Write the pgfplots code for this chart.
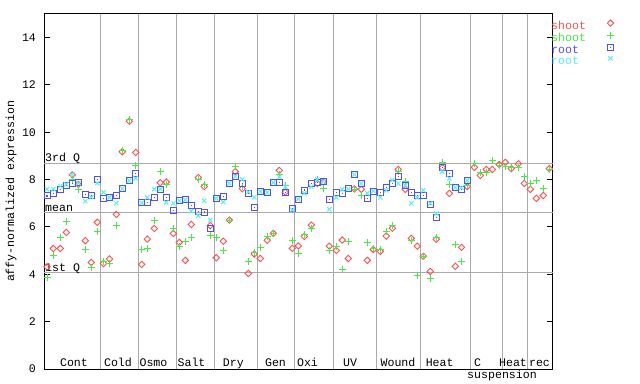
\documentclass[border=0pt]{standalone}
\usepackage{fontspec}
\setmainfont{Liberation Mono}
\usepackage{pgfplots}
\pgfplotsset{compat=1.18}
\definecolor{cred}{RGB}{255,80,80}
\definecolor{cgreen}{RGB}{70,235,70}
\definecolor{cblue}{RGB}{80,80,255}
\definecolor{ccyan}{RGB}{90,240,240}
\definecolor{cgrid}{RGB}{170,170,170}
\pgfdeclareplotmark{dmd}{%
  \pgfpathmoveto{\pgfqpoint{0pt}{\pgfplotmarksize}}%
  \pgfpathlineto{\pgfqpoint{\pgfplotmarksize}{0pt}}%
  \pgfpathlineto{\pgfqpoint{0pt}{-\pgfplotmarksize}}%
  \pgfpathlineto{\pgfqpoint{-\pgfplotmarksize}{0pt}}%
  \pgfpathclose\pgfusepathqstroke}
\pgfdeclareplotmark{sqdot}{%
  \pgfpathrectangle{\pgfqpoint{-\pgfplotmarksize}{-\pgfplotmarksize}}{\pgfqpoint{2\pgfplotmarksize}{2\pgfplotmarksize}}%
  \pgfusepathqstroke
  \pgfpathrectangle{\pgfqpoint{-0.6bp}{-0.6bp}}{\pgfqpoint{1.2bp}{1.2bp}}%
  \pgfusepathqfill}
\pgfplotsset{legimg/.style={legend image code/.code={\path (0bp,0bp) (30bp,0bp); \draw[##1] plot coordinates {(24bp,3.5bp)};}}}
\newcommand{\fs}{\fontsize{11.6bp}{13bp}\selectfont}

\pgfplotstableread{
x y
47 4.32
53.3 5.09
60.3 5.09
66.3 5.77
72.3 8.2
78.3 7.8
85.3 5.42
91.3 4.5
97.3 6.2
103.5 4.46
109.5 4.65
116.3 6.53
122.3 9.18
129.3 10.47
135.7 9.15
141.7 4.42
147.3 5.49
154.3 5.94
160.3 7.87
166.3 7.9
173.3 5.73
179.3 5.35
185.3 4.59
191.3 6.11
198.3 8.09
204.3 7.71
210.3 6.06
216.3 4.7
223.3 5.4
229.3 6.29
235.3 8.34
242.3 7.62
248.3 4.04
254.3 4.86
260.3 4.67
267.3 5.44
273.3 5.73
279.3 8.39
285.3 7.47
292.3 5.1
298.3 5.2
304.3 5.6
311.3 6.08
317.3 7.84
323.3 7.9
329.3 5.19
336.3 5.01
342.3 5.45
348.3 4.67
354.3 7.61
361.3 7.59
367.3 4.59
373.3 5.05
380.3 4.97
386.3 5.62
392.3 5.95
398.3 8.43
405.3 7.59
411.3 5.52
417.3 5.19
423.3 4.76
430.3 4.12
436.3 5.48
442.3 8.51
449.3 7.42
455.3 4.34
461.5 5.14
467.3 7.71
474.3 8.52
480.3 8.18
486.3 8.43
492.3 8.43
499.3 8.64
505.3 8.73
511.3 8.47
518.3 8.67
524.3 7.84
530.3 7.59
536.3 7.21
543.3 7.33
549.3 8.47
}\shootA

\pgfplotstableread{
x y
47 3.85
53.3 4.8
60.3 5.56
66.3 6.25
72.3 8.0
78.3 7.59
85.3 5.07
91.3 4.28
97.3 5.83
103.5 4.56
109.5 4.46
116.3 6.07
122.3 9.25
129.3 10.55
135.7 8.59
141.7 5.07
147.3 5.1
154.3 6.28
160.3 8.34
166.3 7.8
173.3 5.94
179.3 5.19
185.3 5.39
191.3 5.56
198.3 8.02
204.3 7.81
210.3 5.64
216.3 5.55
223.3 5.01
229.3 6.29
235.3 8.56
242.3 7.7
248.3 4.56
254.3 4.91
260.3 5.14
267.3 5.59
273.3 5.73
279.3 8.2
285.3 7.77
292.3 5.45
298.3 4.89
304.3 5.68
311.3 5.93
317.3 8.01
323.3 7.63
329.3 5.01
336.3 5.19
342.3 4.21
348.3 5.4
354.3 7.59
361.3 7.35
367.3 5.35
373.3 5.1
380.3 5.05
386.3 5.81
392.3 6.07
398.3 8.34
405.3 7.92
411.3 5.43
417.3 3.93
423.3 4.76
430.3 3.83
436.3 5.56
442.3 8.73
449.3 7.8
455.3 5.26
461.5 4.55
467.3 7.75
474.3 8.67
480.3 8.32
486.3 8.32
492.3 8.81
499.3 8.6
505.3 8.56
511.3 8.5
518.3 8.52
524.3 8.14
530.3 7.85
536.3 7.97
543.3 7.63
549.3 8.43
}\shootB

\pgfplotstableread{
x y
47 7.31
53.3 7.43
60.3 7.57
66.3 7.77
72.3 7.85
78.3 7.88
85.3 7.39
91.3 7.31
97.3 8.0
103.5 7.21
109.5 7.25
116.3 7.32
122.3 7.62
129.3 7.96
135.7 8.26
141.7 7.02
147.3 7.04
154.3 7.25
160.3 7.6
166.3 7.25
173.3 6.71
179.3 7.11
185.3 7.15
191.3 6.9
198.3 6.67
204.3 6.63
210.3 5.92
216.3 7.21
223.3 7.29
229.3 7.84
235.3 8.13
242.3 7.84
248.3 7.4
254.3 6.83
260.3 7.5
267.3 7.46
273.3 7.88
279.3 7.88
285.3 7.47
292.3 6.77
298.3 7.18
304.3 7.56
311.3 7.84
317.3 7.88
323.3 7.93
329.3 7.17
336.3 7.46
342.3 7.42
348.3 7.61
354.3 8.22
361.3 7.84
367.3 7.21
373.3 7.52
380.3 7.46
386.3 7.67
392.3 7.84
398.3 8.14
405.3 7.76
411.3 7.46
417.3 7.33
423.3 7.33
430.3 6.96
436.3 6.41
442.3 8.51
449.3 8.26
455.3 7.67
461.5 7.59
467.3 7.97
}\rootA

\pgfplotstableread{
x y
47 7.6
53.3 7.6
60.3 7.73
66.3 7.8
72.3 8.22
78.3 7.85
85.3 7.09
91.3 7.26
97.3 7.85
103.5 7.46
109.5 7.25
116.3 7.0
122.3 7.62
129.3 7.96
135.7 8.06
141.7 7.02
147.3 7.25
154.3 7.6
160.3 7.6
166.3 7.04
173.3 7.0
179.3 7.11
185.3 7.15
191.3 6.67
198.3 6.48
204.3 7.11
210.3 6.29
216.3 7.21
223.3 7.05
229.3 7.84
235.3 8.13
242.3 8.01
248.3 7.48
254.3 7.25
260.3 7.5
267.3 7.46
273.3 7.88
279.3 8.12
285.3 7.7
292.3 6.72
298.3 7.18
304.3 7.42
311.3 7.7
317.3 8.01
323.3 7.93
329.3 6.75
336.3 7.25
342.3 7.59
348.3 7.61
354.3 8.22
361.3 7.84
367.3 7.42
373.3 7.52
380.3 7.25
386.3 7.55
392.3 7.98
398.3 7.84
405.3 7.76
411.3 7.0
417.3 7.25
423.3 7.55
430.3 7.0
436.3 6.57
442.3 8.34
449.3 8.05
455.3 7.67
461.5 7.67
467.3 7.97
}\rootB

\begin{document}
\fs
\begin{tikzpicture}
\path[use as bounding box] (0,0) rectangle (640bp,384bp);
\begin{axis}[
  at={(44bp,15bp)}, anchor=south west,
  scale only axis, width=508.5bp, height=355bp,
  xmin=44, xmax=552.5, ymin=0, ymax=15,
  clip=false,
  axis line style={line width=1bp, black},
  xtick=\empty,
  ytick={0,2,...,14},
  ytick pos=both,
  tick align=inside,
  major tick length=6bp,
  every tick/.style={black, line width=1bp},
  /pgf/number format/assume math mode=true,
  tick label style={font=\fs},
  yticklabel style={xshift=-4bp},
  ylabel={affy-normalized expression},
  ylabel style={at={(axis description cs:-0.0649,0.5)}, anchor=center, font=\fs},
  extra x ticks={100,138.3,176.7,214.5,257.3,294.8,333,376.7,420.2,470.7,502.7,527.7},
  extra x tick labels={},
  extra x tick style={grid=major, major tick length=0pt, major grid style={cgrid, line width=1bp}},
  extra y ticks={4.08,6.62,8.69},
  extra y tick labels={},
  extra y tick style={grid=major, major tick length=0pt, major grid style={cgrid, line width=1bp}},
  legend style={draw=none, fill=none, at={(1,1)}, anchor=north west, xshift=-1.5bp, yshift=-5.7bp,
    inner sep=0pt, row sep=0pt, column sep=0pt,
    nodes={inner sep=0pt, text height=8bp, text depth=2.8bp, font=\fs}},
  legend cell align=left,
  legend plot pos=right,
]
\addplot[only marks, mark=dmd, mark size=3.2bp, cred, line width=0.9bp, legimg] table {\shootA};
\addplot[only marks, mark=+, mark size=3.5bp, cgreen, line width=1bp, legimg] table {\shootB};
\addplot[only marks, mark=sqdot, mark size=3bp, cblue, line width=1bp, legimg] table {\rootA};
\addplot[only marks, mark=x, mark size=3bp, ccyan, line width=1bp, legimg] table {\rootB};
\legend{\textcolor{cred}{shoot},\textcolor{cgreen}{shoot},\textcolor{cblue}{root},\textcolor{ccyan}{root}}

\node[anchor=base west, inner sep=0pt, font=\fs] at (axis cs:45,8.69) [yshift=1.5bp] {3rd Q};
\node[anchor=base west, inner sep=0pt, font=\fs] at (axis cs:45,6.62) [yshift=0.6bp] {mean};
\node[anchor=base west, inner sep=0pt, font=\fs] at (axis cs:45,4.08) [yshift=1.2bp] {1st Q};

\node[anchor=base, inner sep=0pt, font=\fs] at (axis cs:74,0) [yshift=2.5bp] {Cont};
\node[anchor=base, inner sep=0pt, font=\fs] at (axis cs:118,0) [yshift=2.5bp] {Cold};
\node[anchor=base, inner sep=0pt, font=\fs] at (axis cs:153.5,0) [yshift=2.5bp] {Osmo};
\node[anchor=base, inner sep=0pt, font=\fs] at (axis cs:191.5,0) [yshift=2.5bp] {Salt};
\node[anchor=base, inner sep=0pt, font=\fs] at (axis cs:233.3,0) [yshift=2.5bp] {Dry};
\node[anchor=base, inner sep=0pt, font=\fs] at (axis cs:275.5,0) [yshift=2.5bp] {Gen};
\node[anchor=base, inner sep=0pt, font=\fs] at (axis cs:307.5,0) [yshift=2.5bp] {Oxi};
\node[anchor=base, inner sep=0pt, font=\fs] at (axis cs:350,0) [yshift=2.5bp] {UV};
\node[anchor=base, inner sep=0pt, font=\fs] at (axis cs:398,0) [yshift=2.5bp] {Wound};
\node[anchor=base, inner sep=0pt, font=\fs] at (axis cs:439.7,0) [yshift=2.5bp] {Heat};
\node[anchor=base, inner sep=0pt, font=\fs] at (axis cs:477.5,0) [yshift=2.5bp] {C};
\node[anchor=base, inner sep=0pt, font=\fs] at (axis cs:513,0) [yshift=2.5bp] {Heat};
\node[anchor=base, inner sep=0pt, font=\fs] at (axis cs:539.5,0) [yshift=2.5bp] {rec};
\node[anchor=base, inner sep=0pt, font=\fs] at (axis cs:502,0) [yshift=-9.7bp] {suspension};
\end{axis}
\end{tikzpicture}
\end{document}
